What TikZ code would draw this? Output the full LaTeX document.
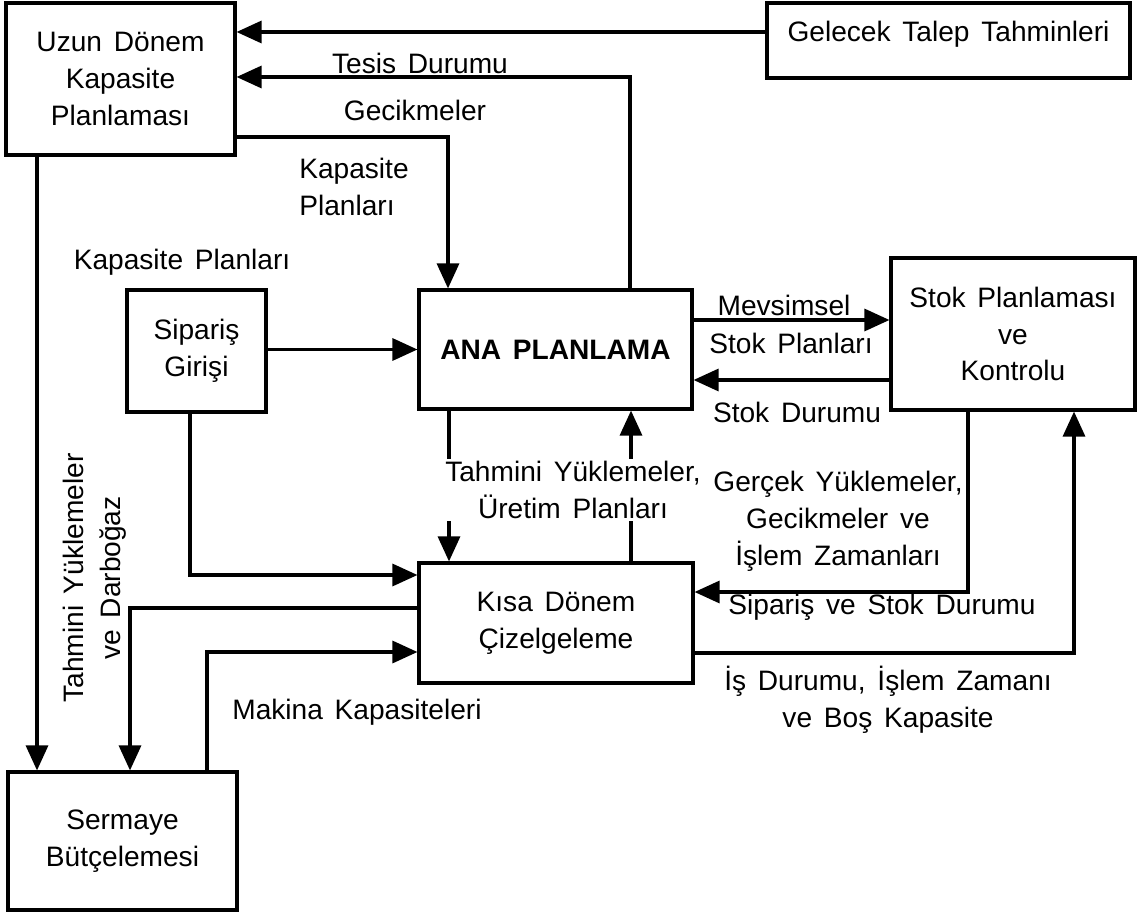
\documentclass[tikz,border=0pt]{standalone}
\usepackage{fontspec}
\setsansfont{Liberation Sans}
\usetikzlibrary{arrows.meta, positioning, calc}

\begin{document}
\begin{tikzpicture}[
    x=0.02cm, y=-0.02cm,
    block/.style={rectangle, draw, line width=1.8pt, align=center, font=\sffamily\fontsize{16}{21}\selectfont, execute at begin node={\spaceskip=6.7pt plus 2pt\relax}},
    lbl/.style={align=center, inner sep=1pt, font=\sffamily\fontsize{16}{21}\selectfont, execute at begin node={\spaceskip=6.7pt plus 2pt\relax}},
    arrow/.style={draw, line width=1.8pt, -{Triangle[length=0.5cm, width=0.44cm]}}
]
\useasboundingbox (0,0) rectangle (1139,915);

\node[block, minimum width=4.58cm, minimum height=3.04cm] (uzun) at (120.5,79) {Uzun Dönem\\Kapasite\\Planlaması};
\node[block, minimum width=7.26cm, minimum height=1.5cm, text depth=0.35cm] (gelecek) at (948.5,40.5) {Gelecek Talep Tahminleri};
\node[block, minimum width=2.78cm, minimum height=2.44cm] (siparis) at (196.5,351) {Sipariş\\Girişi};
\node[block, minimum width=5.46cm, minimum height=2.38cm] (ana) at (555.5,349.5) {\textbf{ANA PLANLAMA}};
\node[block, minimum width=4.88cm, minimum height=3.04cm] (stok) at (1013,334) {Stok Planlaması\\ve\\Kontrolu};
\node[block, minimum width=5.48cm, minimum height=2.4cm] (kisa) at (556,623) {Kısa Dönem\\Çizelgeleme};
\node[block, minimum width=4.58cm, minimum height=2.76cm] (sermaye) at (122.5,841) {Sermaye\\Bütçelemesi};

\draw[arrow] (gelecek.west |- 0,32) -- (uzun.east |- 0,32);
\draw[arrow] (ana.north -| 630,0) |- (uzun.east |- 0,77);
\draw[arrow] (uzun.east |- 0,137) -| (ana.north -| 448,0);
\draw[arrow] (uzun.south -| 37,0) -- (sermaye.north -| 37,0);
\draw[arrow] (siparis.east |- ana.west) -- (ana.west);
\draw[arrow] (ana.east |- 0,320) -- (stok.west |- 0,320);
\draw[arrow] (stok.west |- 0,380) -- (ana.east |- 0,380);
\draw[arrow] (ana.south -| 449,0) -- (kisa.north -| 449,0);
\draw[arrow] (kisa.north -| 631,0) -- (ana.south -| 631,0);
\draw[arrow] (siparis.south -| 190,0) |- (kisa.west |- 0,575);
\draw[arrow] (stok.south -| 968,0) |- (kisa.east |- 0,592);
\draw[arrow] (kisa.east |- 0,653) -| (stok.south -| 1074,0);
\draw[arrow] (kisa.west |- 0,608) -| (sermaye.north -| 130,0);
\draw[arrow] (sermaye.north -| 207,0) |- (kisa.west |- 0,652);

\node[lbl] (tesis) at (420,63) {Tesis Durumu};
\node[lbl] (gecik) at (415,110) {Gecikmeler};
\node[lbl, align=left] (kapplan) at (354,187) {Kapasite\\Planları};
\node[lbl] (kapplan2) at (182,262) {Kapasite Planları};
\node[lbl] (mevsim) at (784,305) {Mevsimsel};
\node[lbl] (stokplan) at (791,343) {Stok Planları};
\node[lbl] (stokdur) at (797,412) {Stok Durumu};
\node[lbl, fill=white] (tahmin) at (573,490) {Tahmini Yüklemeler,\\Üretim Planları};
\node[lbl] (gercek) at (838,521) {Gerçek Yüklemeler,\\Gecikmeler ve\\İşlem Zamanları};
\node[lbl] (sipstok) at (882,607) {Sipariş ve Stok Durumu};
\node[lbl] (isdur) at (888,700) {İş Durumu, İşlem Zamanı\\ve Boş Kapasite};
\node[lbl, rotate=90] (darbogaz) at (95,578) {Tahmini Yüklemeler\\ve Darboğaz};
\node[lbl] (makina) at (357,712) {Makina Kapasiteleri};

\end{tikzpicture}
\end{document}
